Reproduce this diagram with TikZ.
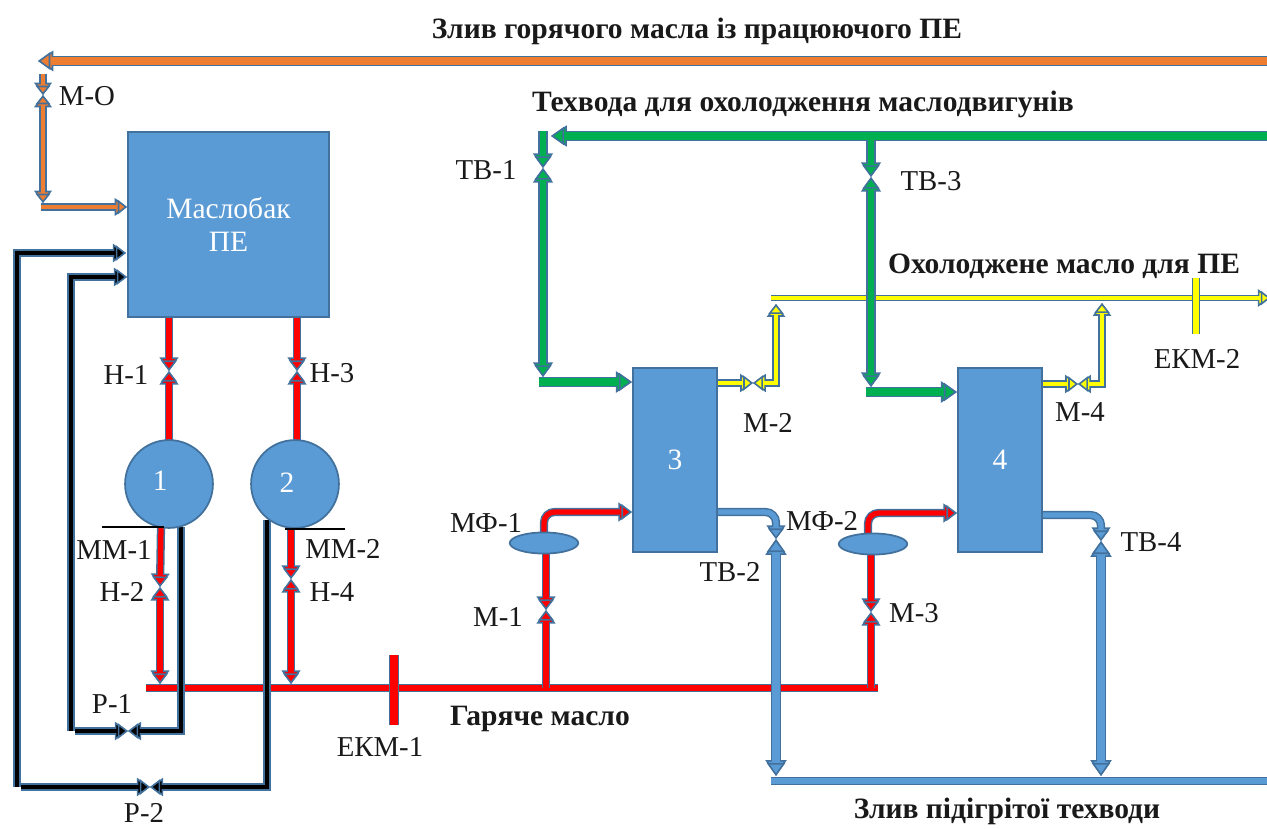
\documentclass[tikz,border=0pt]{standalone}
\usepackage{fontspec}
\setmainfont{Liberation Serif}
\usetikzlibrary{arrows.meta}
\usetikzlibrary{shapes.geometric}
\definecolor{boxblue}{HTML}{5B9BD5}
\definecolor{rimblue}{HTML}{41719C}
\definecolor{oilorange}{HTML}{ED7D31}
\definecolor{wtrgreen}{HTML}{00B050}
\definecolor{oilred}{HTML}{FF0000}
\definecolor{oilyellow}{HTML}{FFFF00}
\begin{document}
\begin{tikzpicture}[x=0.02cm,y=-0.02cm,
  pipe/.style 2 args={preaction={draw=rimblue,line width=#2+1.7pt},draw=#1,line width=#2,
    tip/.style={-{Triangle[length=3pt 1,width=6pt 1,color=rimblue,fill=#1,line width=0.9pt]}},
    tips/.style={{Triangle[length=3pt 1,width=6pt 1,color=rimblue,fill=#1,line width=0.9pt]}-{Triangle[length=3pt 1,width=6pt 1,color=rimblue,fill=#1,line width=0.9pt]}}},
  orangepipe/.style={pipe={oilorange}{2.3pt}},
  greenpipe/.style={pipe={wtrgreen}{3.6pt}},
  redpipe/.style={pipe={oilred}{3pt}},
  yellowpipe/.style={pipe={oilyellow}{2.6pt}},
  blackpipe/.style={pipe={black}{2.8pt}},
  bluepipe/.style={pipe={boxblue}{4.4pt}},
  tank/.style={draw=rimblue,line width=1pt,fill=boxblue,text=white,font=\fontsize{16.8}{19}\selectfont,align=center,inner sep=0pt},
  lbl/.style={font=\fontsize{16.4}{18}\selectfont,inner sep=0pt,text=black!90,yshift=-1pt},
  head/.style={font=\fontsize{16.8}{18}\selectfont\bfseries,inner sep=0pt,text=black!90,yshift=-1pt}]
\useasboundingbox (0,0) rectangle (1267,828);
% equipment
\node[tank,minimum width=114.5pt,minimum height=105pt] (bak) at (228.5,224.5) {\raisebox{-1pt}{Маслобак}\\\raisebox{-1pt}{ПЕ}};
\node[tank,minimum width=48pt,minimum height=105pt] (to3) at (675,460) {\raisebox{-1pt}{3}};
\node[tank,minimum width=48pt,minimum height=105pt] (to4) at (1000,460) {\raisebox{-1pt}{4}};
% valves and bends
\foreach \name/\pos in {
  oilE/{1267,61},oilW/{38,61},mo/{43,95},moT/{43,74},moB/{43,203},moC/{41,207},
  h1/{169,371},h3/{297,371},h1B/{169,445},h3B/{297,445},h2/{160,587},h4/{291,579},h2B/{160,684},h4B/{291,684},
  mm1/{161,527},mm2/{291,529},mm1L/{102,527},mm1R/{164,527},mm2L/{285,529},mm2R/{345,529},
  rdW/{146,688},rdE/{878,688},rd1/{546,688},rd3/{871,688},
  ekm1T/{394,655},ekm1B/{394,725},ekm2T/{1196,278},ekm2B/{1196,334},
  m1/{546,610},m3/{871,612},m1T/{546,550},m3T/{871,550},
  f1T/{544,535},f2T/{868,535},f1C/{544,512},f2C/{868,513},
  gnE/{1267,136},gnW/{551,136},gn1T/{543,131},tv1/{543,168},gn1B/{543,377},gn1C/{539,382},
  gn3T/{871,140},tv3/{871,177},gn3B/{871,387},gn3C/{866,392},
  m2/{753,383},m4/{1078,384},yl2C/{776,383},yl4C/{1102,384},yl2T/{776,304},yl4T/{1102,303},
  ylW/{771,298},ylE/{1270,298},
  tv2/{776,539},tv4/{1101,541},bl2C/{776,512},bl4C/{1101,515},bl2B/{776,776},bl4B/{1101,776},
  blW/{771,781},blE/{1267,781},
  blk1/{17,787},blk1T/{17,253},blk1R/{126,253},blk1S/{21,787},blk2/{71,731},blk2T/{71,277},blk2R/{127,277},blk2S/{75,731},
  p1/{128,731},p2/{150,787},blk3T/{181,527},blk3/{181,731},blk4T/{267,520},blk4/{267,787}}
  \coordinate (\name) at (\pos);
% hot oil
\draw[redpipe] (rdW) -- (rdE);
\draw[pipe={oilred}{4pt}] (ekm1T) -- (ekm1B);
\draw[redpipe,tip] (bak.south -| h1) -- (h1);
\draw[redpipe,tip] (h1B) -- (h1);
\draw[redpipe,tip] (bak.south -| h3) -- (h3);
\draw[redpipe,tip] (h3B) -- (h3);
\draw[redpipe,tip] (mm1) -- (h2);
\draw[redpipe,tips] (h2) -- (h2B);
\draw[redpipe,tip] (mm2) -- (h4);
\draw[redpipe,tips] (h4) -- (h4B);
\draw[redpipe,tip] (rd1) -- (m1);
\draw[redpipe,tip] (m1T) -- (m1);
\draw[redpipe,tip] (rd3) -- (m3);
\draw[redpipe,tip] (m3T) -- (m3);
\draw[redpipe,tip,rounded corners=6pt] (f1T) -- (f1C) -- (to3.west |- f1C);
\draw[redpipe,tip,rounded corners=6pt] (f2T) -- (f2C) -- (to4.west |- f2C);
% drain oil
\draw[pipe={oilorange}{4pt},tip] (oilE) -- (oilW);
\draw[orangepipe,tip] (moT) -- (mo);
\draw[orangepipe,tips] (mo) -- (moB);
\draw[orangepipe,tip] (moC) -- (bak.west |- moC);
% return lines
\draw[blackpipe,tip] (blk1) -- (blk1T) -- (blk1R);
\draw[blackpipe,tip] (blk1S) -- (p2);
\draw[blackpipe,tip] (blk4T) -- (blk4) -- (p2);
\draw[blackpipe,tip] (blk2) -- (blk2T) -- (blk2R);
\draw[blackpipe,tip] (blk2S) -- (p1);
\draw[blackpipe,tip] (blk3T) -- (blk3) -- (p1);
% pumps
\node[tank,circle,minimum size=50pt] (pump1) at (169,484) {\raisebox{3.4pt}{1}\hspace{10pt}};
\node[tank,circle,minimum size=50pt] (pump2) at (295,484) {\raisebox{1.7pt}{2}\hspace{9pt}};
\draw[black,line width=1.6pt] (mm1L) -- (mm1R);
\draw[black,line width=1.6pt] (mm2L) -- (mm2R);
% cooled oil
\draw[pipe={oilyellow}{2.2pt},tip] (ylW) -- (ylE);
\draw[pipe={oilyellow}{3pt}] (ekm2T) -- (ekm2B);
\draw[yellowpipe,tip] (to3.east |- m2) -- (m2);
\draw[yellowpipe,tips] (m2) -- (yl2C) -- (yl2T);
\draw[yellowpipe,tip] (to4.east |- m4) -- (m4);
\draw[yellowpipe,tips] (m4) -- (yl4C) -- (yl4T);
% cooling water
\draw[pipe={wtrgreen}{4.4pt},tip] (gnE) -- (gnW);
\draw[greenpipe,tip] (gn1T) -- (tv1);
\draw[greenpipe,tips] (tv1) -- (gn1B);
\draw[pipe={wtrgreen}{4.4pt},tip] (gn1C) -- (to3.west |- gn1C);
\draw[greenpipe,tip] (gn3T) -- (tv3);
\draw[greenpipe,tips] (tv3) -- (gn3B);
\draw[pipe={wtrgreen}{4.4pt},tip] (gn3C) -- (to4.west |- gn3C);
% warm water
\draw[pipe={boxblue}{3pt}] (blW) -- (blE);
\draw[pipe={boxblue}{3pt},tip,rounded corners=6pt] (to3.east |- bl2C) -- (bl2C) -- (tv2);
\draw[bluepipe,tips] (tv2) -- (bl2B);
\draw[pipe={boxblue}{3pt},tip,rounded corners=6pt] (to4.east |- bl4C) -- (bl4C) -- (tv4);
\draw[bluepipe,tips] (tv4) -- (bl4B);
% filters
\node[tank,ellipse,minimum width=39pt,minimum height=12pt] (mf1) at (544,543) {};
\node[tank,ellipse,minimum width=39pt,minimum height=12pt] (mf2) at (873,544) {};
% labels
\node[head] (t1) at (697,30) {Злив горячого масла із працюючого ПЕ};
\node[head] (t2) at (803,103) {Техвода для охолодження маслодвигунів};
\node[head] (t3) at (1064,265) {Охолоджене масло для ПЕ};
\node[head] (t4) at (540,717) {Гаряче масло};
\node[head] (t5) at (1007,810) {Злив підігрітої техводи};
\foreach \name/\pos/\txt in {
  lmo/{87,94}/М-О,ltv1/{486,168}/ТВ-1,ltv3/{931,179}/ТВ-3,lh1/{126,373}/Н-1,lh3/{332,371}/Н-3,
  lmm1/{114,548}/ММ-1,lmm2/{343,547}/ММ-2,lh2/{122,590}/Н-2,lh4/{332,590}/Н-4,
  lp1/{112,702}/Р-1,lp2/{144,811}/Р-2,lek1/{380,745}/ЕКМ-1,lek2/{1197,357}/ЕКМ-2,
  lm1/{498,615}/М-1,lm3/{914,611}/М-3,lf1/{486,521}/МФ-1,lf2/{822,519}/МФ-2,
  ltv2/{730,570}/ТВ-2,ltv4/{1151,540}/ТВ-4,lm2/{768,421}/М-2,lm4/{1080,410}/М-4}
  \node[lbl] (\name) at (\pos) {\txt};
\end{tikzpicture}
\end{document}
